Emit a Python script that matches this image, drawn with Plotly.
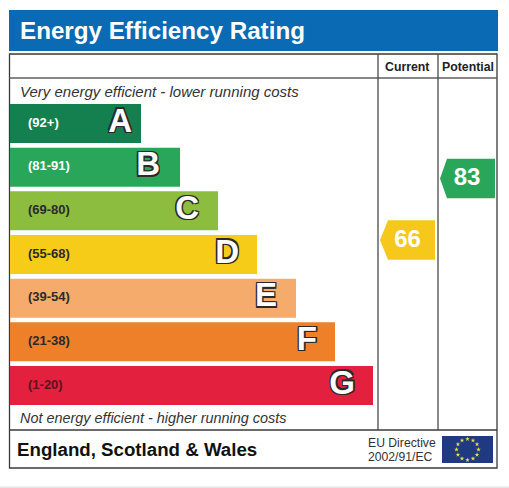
import math
import plotly.graph_objects as go

# bands, top to bottom
bands = ["A", "B", "C", "D", "E", "F", "G"]
band_ranges = ["(92+)", "(81-91)", "(69-80)", "(55-68)", "(39-54)", "(21-38)", "(1-20)"]
band_lengths = [131, 170, 208, 247, 286, 325, 363]
band_colors = ["#14804f", "#2aa65a", "#8dbd3f", "#f6cc18", "#f4ab6b", "#ee8029", "#e3203e"]
range_colors = ["#ffffff", "#ffffff", "#2b2b2b", "#2b2b2b", "#2b2b2b", "#2b2b2b", "#5a1520"]

columns = ["Current", "Potential"]
scores = [66, 83]
score_colors = ["#f6c81c", "#2aa65a"]

W = 509
H = 488
BAR_LEFT = 10
FONT = "Liberation Sans"
OUTLINE = "1.3px 1.3px 0 #2a2a2a, -1.3px -1.3px 0 #2a2a2a, 1.3px -1.3px 0 #2a2a2a, -1.3px 1.3px 0 #2a2a2a"
LETTER_INSET = [9, 20, 19, 18, 19, 18, 18]

fig = go.Figure()

rows = list(range(len(bands)))

# rating bars
fig.add_trace(go.Bar(x=band_lengths, y=rows, base=BAR_LEFT, orientation="h",
                     marker=dict(color=band_colors, line=dict(width=0)),
                     xaxis="x", yaxis="y"))
fig.add_trace(go.Scatter(x=[BAR_LEFT + 18] * 7, y=rows, mode="text", text=band_ranges,
                         textposition="middle right", cliponaxis=False,
                         textfont=dict(family=FONT, size=13, color=range_colors, weight="bold"),
                         xaxis="x", yaxis="y"))
fig.add_trace(go.Scatter(x=[BAR_LEFT + v - i for v, i in zip(band_lengths, LETTER_INSET)], y=rows,
                         mode="text", text=bands,
                         textposition="middle left", cliponaxis=False,
                         textfont=dict(family=FONT, size=33, color="#ffffff", weight="bold", shadow=OUTLINE),
                         xaxis="x", yaxis="y"))

# score arrows, placed on the score axis
arrow_x = [(380, 388, 435), (440, 447, 495)]
half = 5.46
for s, c, (tip, shoulder, right) in zip(scores, score_colors, arrow_x):
    fig.add_trace(go.Scatter(x=[tip, shoulder, right, right, shoulder, tip],
                             y=[s, s + half, s + half, s - half, s - half, s],
                             mode="lines", fill="toself", fillcolor=c, line=dict(width=0),
                             xaxis="x", yaxis="y3"))
    fig.add_trace(go.Scatter(x=[(shoulder + right) / 2 - 4], y=[s - 0.25], mode="text", text=[str(s)],
                             textposition="middle center",
                             textfont=dict(family=FONT, size=24, color="#ffffff", weight="bold"),
                             xaxis="x", yaxis="y3"))

# flag stars
cx, cy = 467.5, 449.5
fig.add_trace(go.Scatter(x=[cx + 11 * math.sin(i * math.pi / 6) for i in range(12)],
                         y=[cy - 10.5 * math.cos(i * math.pi / 6) for i in range(12)],
                         mode="markers",
                         marker=dict(symbol="star", size=3.5, color="#e6dc50", line=dict(width=0)),
                         xaxis="x", yaxis="y2"))

shapes = [
    dict(type="rect", x0=9, x1=498, y0=10, y1=51, fillcolor="#0a6ab3", line=dict(width=0), layer="below"),
    dict(type="rect", x0=442, x1=493, y0=436, y1=463, fillcolor="#1f3a80", line=dict(width=0), layer="below"),
    dict(type="rect", x0=0, x1=W, y0=486.5, y1=488, fillcolor="#e6e6e6", line=dict(width=0), layer="below"),
    dict(type="rect", x0=9.5, x1=497, y0=54, y1=468, line=dict(color="#3a3a3a", width=1.3), layer="below"),
    dict(type="line", x0=9.5, x1=497, y0=78, y1=78, line=dict(color="#5f5f5f", width=1.6), layer="below"),
    dict(type="line", x0=9.5, x1=497, y0=430, y1=430, line=dict(color="#3a3a3a", width=1.3), layer="below"),
    dict(type="line", x0=378, x1=378, y0=54, y1=430, line=dict(color="#4a4a4a", width=1.3), layer="below"),
    dict(type="line", x0=438, x1=438, y0=54, y1=430, line=dict(color="#4a4a4a", width=1.3), layer="below"),
]
for s in shapes:
    s.update(xref="x", yref="y2")


def label(x, y, text, size, color="#222222", bold=False, italic=False, anchor="left"):
    return dict(x=x, y=y, xref="x", yref="y2", text=text, showarrow=False, xanchor=anchor, yanchor="middle",
                font=dict(family=FONT, size=size, color=color, weight="bold" if bold else "normal",
                          style="italic" if italic else "normal"))


annotations = [
    label(18, 30.5, "Energy Efficiency Rating", 24.2, color="#ffffff", bold=True),
    label(407, 67, columns[0], 12.3, bold=True, anchor="center"),
    label(468, 67, columns[1], 12.3, bold=True, anchor="center"),
    label(18, 91, "Very energy efficient - lower running costs", 15, color="#333333", italic=True),
    label(18, 418, "Not energy efficient - higher running costs", 14.4, color="#333333", italic=True),
    label(15, 449, "England, Scotland & Wales", 18.7, color="#111111", bold=True),
    label(366, 443, "EU Directive", 12.2, color="#333333"),
    label(366, 457, "2002/91/EC", 12.2, color="#333333"),
]

fig.update_layout(
    width=W,
    height=H,
    margin=dict(l=0, r=0, t=0, b=0),
    paper_bgcolor="white",
    plot_bgcolor="rgba(0,0,0,0)",
    showlegend=False,
    hovermode=False,
    bargap=0.107,
    shapes=shapes,
    annotations=annotations,
    xaxis=dict(range=[0, W], domain=[0, 1], visible=False),
    # row axis: row 0 centred on 123.5px, rows 43.67px apart
    yaxis=dict(range=[8.347, -2.828], domain=[0, 1], visible=False),
    yaxis2=dict(range=[H, 0], domain=[0, 1], overlaying="y", visible=False),
    # score axis: 83 sits at 178.5px, 66 at 240px
    yaxis3=dict(range=[-2.5, 132.3], domain=[0, 1], overlaying="y", visible=False),
)

fig.write_html("out.html", config=dict(displayModeBar=False),
               post_script="document.body.style.margin='0';")
